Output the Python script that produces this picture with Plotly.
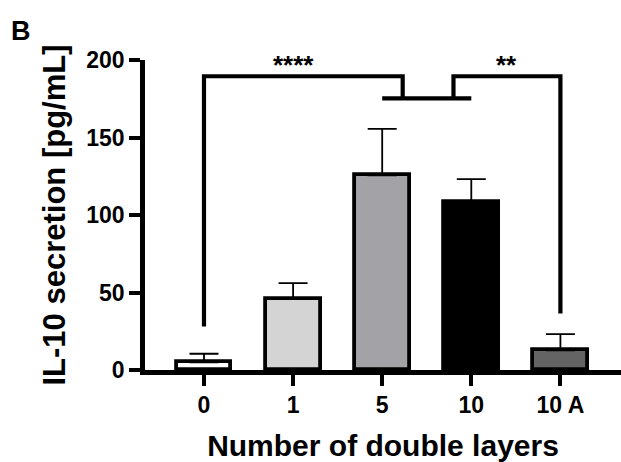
import plotly.graph_objects as go

# ---- data ----
categories = ["0", "1", "5", "10", "10 A"]
means = [5, 46, 125.6, 108.5, 12.7]
errors = [5.5, 10, 30, 14.7, 10.5]
bar_colors = ["#ffffff", "#d4d4d4", "#a3a3a7", "#000000", "#646464"]
y_ticks = [0, 50, 100, 150, 200]

# significance brackets (category index, level in data units)
bracket_top = 189.5
bracket_join = 175.2
left_bracket = {"from": 0, "to": 2.23, "low": 28, "label": "****"}
right_bracket = {"from": 2.80, "to": 4, "low": 36.5, "label": "**"}
join_span = [2, 3]

W, H = 621, 462
ml, mr, mt, mb = 145, 0, 60, 92
FONT = "Liberation Sans, Arial, sans-serif"

xs = list(range(len(categories)))

fig = go.Figure()
fig.add_trace(go.Bar(
    x=xs, y=means, width=0.617,
    marker=dict(color=bar_colors, line=dict(color="black", width=3.8)),
    error_y=dict(type="data", array=errors, arrayminus=[0]*len(errors),
                 symmetric=False, color="black", thickness=1.8, width=14.5),
    showlegend=False,
))

lw = 4.2
fig.add_trace(go.Scatter(
    x=[left_bracket["from"], left_bracket["from"], left_bracket["to"], left_bracket["to"]],
    y=[left_bracket["low"], bracket_top, bracket_top, bracket_join],
    mode="lines", line=dict(color="black", width=lw),
    showlegend=False, cliponaxis=False, hoverinfo="skip"))
fig.add_trace(go.Scatter(
    x=[right_bracket["from"], right_bracket["from"], right_bracket["to"], right_bracket["to"]],
    y=[bracket_join, bracket_top, bracket_top, right_bracket["low"]],
    mode="lines", line=dict(color="black", width=lw),
    showlegend=False, cliponaxis=False, hoverinfo="skip"))
fig.add_trace(go.Scatter(
    x=join_span, y=[bracket_join, bracket_join],
    mode="lines", line=dict(color="black", width=lw),
    showlegend=False, cliponaxis=False, hoverinfo="skip"))

for b in (left_bracket, right_bracket):
    fig.add_annotation(
        x=(b["from"] + b["to"]) / 2 - (0.11 if b is left_bracket else 0),
        y=bracket_top, yanchor="bottom", yshift=-6,
        text=b["label"], showarrow=False,
        font=dict(family=FONT, size=26, color="black", weight="bold"))

pw = W - ml - mr
ph = H - mt - mb
fig.add_annotation(
    xref="paper", yref="paper", x=(9 - ml) / pw, xanchor="left",
    y=1 + (mt - 14) / ph, yanchor="top",
    text="B", showarrow=False,
    font=dict(family=FONT, size=27, color="black", weight="bold"))

fig.update_layout(
    width=W, height=H,
    margin=dict(l=ml, r=mr, t=mt, b=mb),
    plot_bgcolor="white", paper_bgcolor="white",
    font=dict(family=FONT, color="black"),
    bargap=0,
)
fig.update_xaxes(
    range=[-0.662, 4.68], tickvals=xs, ticktext=categories,
    showline=True, linecolor="black", linewidth=4.5,
    ticks="outside", ticklen=11, tickwidth=4, tickcolor="black",
    tickfont=dict(family=FONT, size=23, color="black", weight="bold"),
    showgrid=False, zeroline=False,
    title=dict(text="Number of double layers", standoff=20,
               font=dict(family=FONT, size=30, color="black", weight="bold")),
)
fig.update_yaxes(
    range=[0, 200], tickvals=y_ticks,
    showline=True, linecolor="black", linewidth=4.5,
    ticks="outside", ticklen=11, tickwidth=4, tickcolor="black",
    tickfont=dict(family=FONT, size=23, color="black", weight="bold"),
    showgrid=False, zeroline=False,
    title=dict(text="IL-10 secretion [pg/mL]", standoff=13,
               font=dict(family=FONT, size=31, color="black", weight="bold")),
)

fig.write_html("out.html")
